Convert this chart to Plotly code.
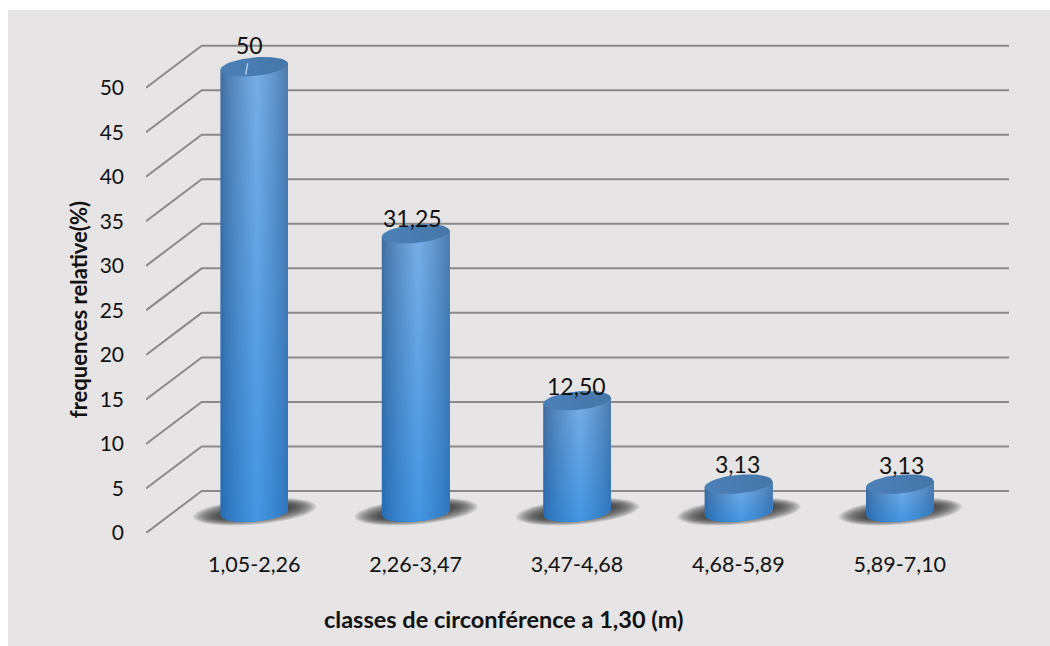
import numpy as np
import plotly.graph_objects as go

# Chart data
categories = ["1,05-2,26", "2,26-3,47", "3,47-4,68", "4,68-5,89", "5,89-7,10"]
frequencies = [50, 31.25, 12.5, 3.13, 3.13]
value_labels = ["50", "31,25", "12,50", "3,13", "3,13"]
y_ticks = [0, 5, 10, 15, 20, 25, 30, 35, 40, 45, 50]

x_title = "classes de circonférence a 1,30 (m)"
y_title = "frequences relative(%)"

# Canvas and plot box, in pixels
WIDTH, HEIGHT = 1050, 646
LEFT, RIGHT, TOP, BOTTOM = 146, 1009, 30, 532.7
PX_PER_UNIT = 8.9            # vertical pixels for one percent
PX_PER_CAT = 161.4           # horizontal pixels between two classes
FIRST_CAT_PX = 254.2

x_range = [(LEFT - FIRST_CAT_PX) / PX_PER_CAT, (RIGHT - FIRST_CAT_PX) / PX_PER_CAT]
y_range = [0, (BOTTOM - TOP) / PX_PER_UNIT]

# Oblique floor depth, as axis offsets
DEPTH_X = 55.7 / PX_PER_CAT
DEPTH_Y = 42.0 / PX_PER_UNIT
MID_Y = DEPTH_Y / 2          # cylinders stand halfway into the floor

# Cylinder proportions, as axis offsets
RX = 33.8 / PX_PER_CAT
RY = 9.3 / PX_PER_UNIT
TILT = 3.0 / PX_PER_UNIT     # right side of each ellipse sits higher

GRID = "#8b898a"
INK = "#111111"
FONT = "Lato"


def mix(a, b, t):
    return tuple(a[k] + (b[k] - a[k]) * t for k in range(3))


def rgb(c):
    return "rgb(%d,%d,%d)" % tuple(int(round(v)) for v in c)


def shading(u):
    """Brightness across the round side: dark rims, bright just past the middle."""
    return float(np.clip(1 - abs(u - 0.08) / 1.08, 0, 1)) ** 0.75


TOP_EDGE, TOP_MID = (62, 106, 156), (120, 174, 230)
LOW_EDGE, LOW_MID = (38, 106, 176), (68, 150, 226)
CAP_LEFT, CAP_RIGHT = (76, 128, 184), (70, 118, 168)

fig = go.Figure()

# Back wall gridlines running in from the oblique floor edge
for v in y_ticks:
    fig.add_trace(go.Scatter(
        x=[x_range[0], x_range[0] + DEPTH_X, x_range[1]],
        y=[v, v + DEPTH_Y, v + DEPTH_Y],
        mode="lines", line=dict(color=GRID, width=2),
        hoverinfo="skip", showlegend=False, cliponaxis=False,
    ))


def ellipse(cx, cy, rx, ry, tilt, n=80):
    t = np.linspace(0, 2 * np.pi, n)
    return cx + rx * np.cos(t), cy + ry * np.sin(t) + tilt * np.cos(t)


SHADOW_LAYERS = 30

for i, value in enumerate(frequencies):
    # Soft floor shadow built from stacked translucent ellipses
    for k in range(SHADOW_LAYERS):
        grow = 1 - k / SHADOW_LAYERS
        sx, sy = ellipse(i + 0.6 / PX_PER_CAT, MID_Y + 0.3 / PX_PER_UNIT,
                         (26 + 36 * grow) / PX_PER_CAT,
                         (2 + 11 * grow) / PX_PER_UNIT, 5 / PX_PER_UNIT)
        fig.add_trace(go.Scatter(
            x=sx, y=sy, mode="lines", line=dict(width=0), fill="toself",
            fillcolor="rgba(58,52,48,0.075)", hoverinfo="skip", showlegend=False,
        ))

    # Round side: overlapping vertical strips, each with its own vertical gradient
    y_low, y_high = MID_Y, MID_Y + value
    for u0 in np.linspace(-1, 0.96, 50):
        u = np.linspace(u0, 1, 40)
        root = np.sqrt(np.clip(1 - u ** 2, 0, 1))
        xs = i + RX * u
        bottom_arc = y_low + TILT * u - RY * root
        top_arc = y_high + TILT * u
        s = shading(u0 + 0.02)
        fig.add_trace(go.Scatter(
            x=np.r_[xs, xs[::-1]], y=np.r_[bottom_arc, top_arc[::-1]],
            mode="lines", line=dict(width=0), fill="toself",
            fillgradient=dict(
                type="vertical", start=y_low - RY, stop=y_high,
                colorscale=[[0, rgb(mix(LOW_EDGE, LOW_MID, s))],
                            [1, rgb(mix(TOP_EDGE, TOP_MID, s))]],
            ),
            hoverinfo="skip", showlegend=False,
        ))

    # Top cap
    cx, cy = ellipse(i, y_high, RX, RY, TILT)
    fig.add_trace(go.Scatter(
        x=cx, y=cy, mode="lines", line=dict(width=0), fill="toself",
        fillgradient=dict(type="horizontal", start=i - RX, stop=i + RX,
                          colorscale=[[0, rgb(CAP_LEFT)], [1, rgb(CAP_RIGHT)]]),
        hoverinfo="skip", showlegend=False,
    ))

# Leader line from the tallest label down onto its cylinder
fig.add_trace(go.Scatter(
    x=[0 - 6.5 / PX_PER_CAT, 0 - 8.5 / PX_PER_CAT],
    y=[MID_Y + frequencies[0] + 3.5 / PX_PER_UNIT, MID_Y + frequencies[0] - 8 / PX_PER_UNIT],
    mode="lines", line=dict(color="#a9c8e8", width=1.6),
    hoverinfo="skip", showlegend=False,
))

# Value labels above each cylinder
label_dx = [-5, -3, -1, -1, 2]
label_dy = [22, 16, 15, 20, 19]
annotations = [
    dict(x=i, y=MID_Y + v, text=t, showarrow=False, xshift=dx, yshift=dy,
         xanchor="center", yanchor="middle",
         font=dict(family=FONT, size=23, color=INK))
    for i, (v, t, dx, dy) in enumerate(zip(frequencies, value_labels, label_dx, label_dy))
]

# Axis captions
annotations.append(dict(
    x=(503.5 - LEFT) / (RIGHT - LEFT), y=(BOTTOM - 619) / (BOTTOM - TOP),
    xref="paper", yref="paper", xanchor="center", yanchor="middle",
    text="<b>%s</b>" % x_title, showarrow=False,
    font=dict(family=FONT, size=23.5, color=INK),
))
annotations.append(dict(
    x=(78 - LEFT) / (RIGHT - LEFT), y=(BOTTOM - 310) / (BOTTOM - TOP),
    xref="paper", yref="paper", xanchor="center", yanchor="middle",
    text="<b>%s</b>" % y_title, textangle=-90, showarrow=False,
    font=dict(family=FONT, size=22, color=INK),
))

fig.update_layout(
    width=WIDTH, height=HEIGHT,
    margin=dict(l=LEFT, r=WIDTH - RIGHT, t=TOP, b=HEIGHT - BOTTOM, pad=0),
    paper_bgcolor="white", plot_bgcolor="rgba(0,0,0,0)",
    showlegend=False, annotations=annotations,
    font=dict(family=FONT, color=INK),
    shapes=[dict(
        type="rect", layer="below", xref="paper", yref="paper",
        x0=(8 - LEFT) / (RIGHT - LEFT), x1=(WIDTH - LEFT) / (RIGHT - LEFT),
        y0=(BOTTOM - HEIGHT) / (BOTTOM - TOP), y1=(BOTTOM - 10) / (BOTTOM - TOP),
        fillcolor="#e6e4e5", line=dict(width=0),
    )],
    xaxis=dict(
        range=x_range, tickmode="array", tickvals=list(range(len(categories))),
        ticktext=categories, showgrid=False, zeroline=False, showline=False,
        ticks="", ticklabelstandoff=16, tickfont=dict(family=FONT, size=21.5, color=INK),
    ),
    yaxis=dict(
        range=y_range, tickmode="array", tickvals=y_ticks,
        showgrid=False, zeroline=False, showline=False,
        ticks="", ticklabelstandoff=21, tickfont=dict(family=FONT, size=21, color=INK),
    ),
)

fig.write_html("out.html")
